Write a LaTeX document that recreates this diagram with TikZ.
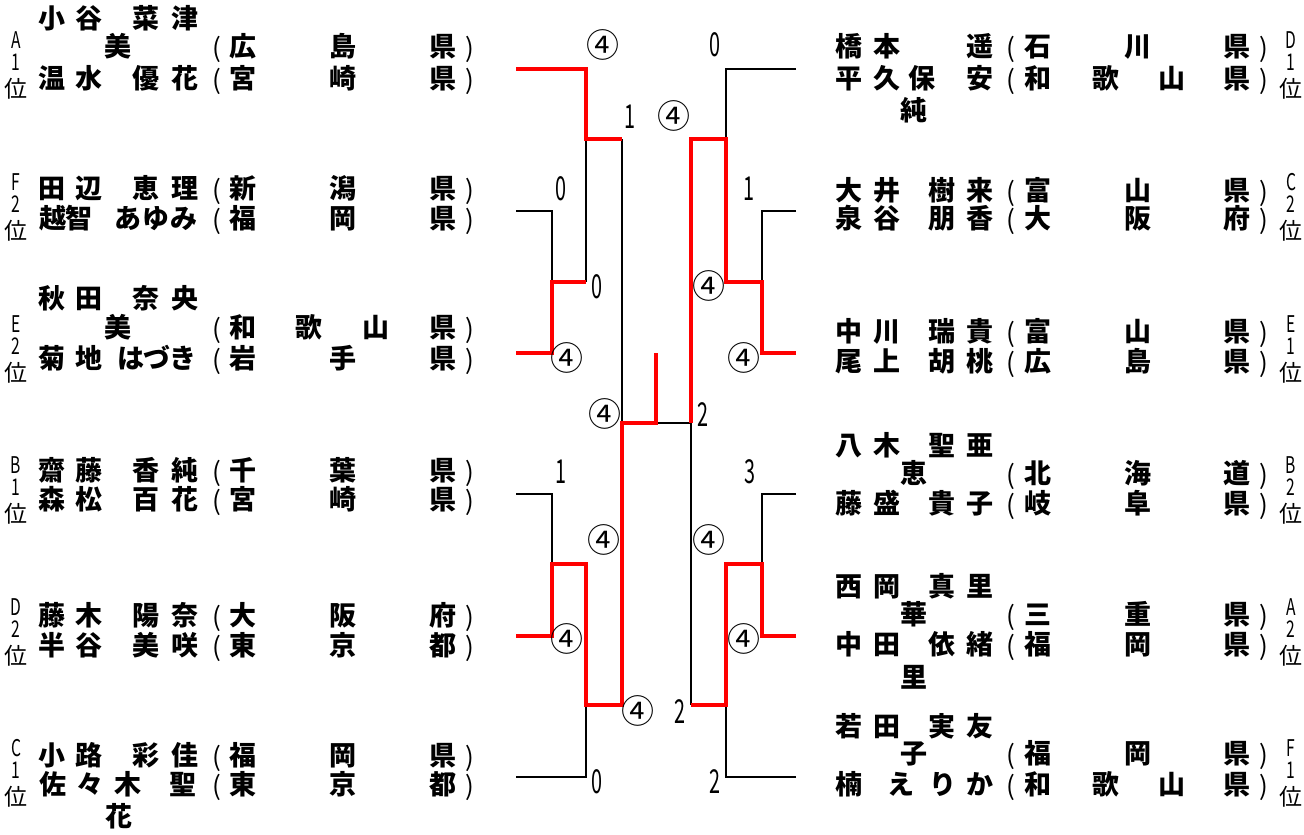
\documentclass[tikz,border=0pt]{standalone}
\usepackage{fontspec}
\usepackage{graphicx}
\newfontfamily\jp{Noto Sans CJK JP}

% one row of characters, each placed at its own x
\newcommand\putrow[3]{%
  \foreach \px/\zi [count=\k] in {#3} {\node[nm] (#1-\k) at (\px,#2) {\zi};}}
% prefecture between its parentheses
\newcommand\putpref[4]{%
  \node[par] (#1-o) at (#2,#3+1) {(};
  \node[par] (#1-c) at (#2+253,#3+1) {)};
  \putrow{#1}{#3}{#4}}
% pool and place, written downwards
\newcommand\putrank[5]{%
  \node[rank] (#1-a) at (#2,#3-24) {\scalebox{.68}[1]{#4}};
  \node[rank] (#1-b) at (#2,#3-2)  {\scalebox{.68}[1]{#5}};
  \node[rank, font = \jp\fontsize{23}{23}\selectfont] (#1-c) at (#2,#3+25) {位};}
\newcommand\nar[1]{\scalebox{.6}[1]{#1}}

\begin{document}
\begin{tikzpicture}[
    x = 1pt,
    y = -1pt,
    nm/.style = {inner sep = 0pt, text height = .88em, text depth = .12em,
                 font = \jp\bfseries\fontsize{27}{27}\selectfont},
    par/.style = {inner sep = 0pt, text height = .88em, text depth = .12em,
                  font = \jp\fontsize{26}{26}\selectfont},
    rank/.style = {inner sep = 0pt, text height = .8em, text depth = .1em,
                   font = \jp\fontsize{23}{23}\selectfont},
    score/.style = {inner sep = 0pt, text height = .88em, text depth = .12em,
                    font = \jp\fontsize{33}{33}\selectfont},
    circ/.style = {score, font = \jp\fontsize{33}{33}\selectfont},
    win/.style = {draw = red, line width = 4.5pt},
    lose/.style = {draw = black, line width = 1.2pt}
]
\useasboundingbox (0,0) rectangle (1304,835);

% Left players
\putrank{a1r}{16}{69}{A}{1}
\putrow{a1x}{25}{52/小,89/谷,146/菜,185/津}
\putrow{a1xx}{53}{118/美}
\putpref{a1xp}{217}{53}{243/広,343/島,443/県}
\putrow{a1y}{85}{52/温,89/水,146/優,185/花}
\putpref{a1yp}{217}{85}{243/宮,343/崎,443/県}

\putrank{f2r}{16}{211}{F}{2}
\putrow{f2x}{195}{52/田,89/辺,146/恵,185/理}
\putpref{f2xp}{217}{195}{243/新,343/潟,443/県}
\putrow{f2y}{225}{53/越,79/智,128/あ,156/ゆ,184/み}
\putpref{f2yp}{217}{225}{243/福,343/岡,443/県}

\putrank{e2r}{16}{353}{E}{2}
\putrow{e2x}{305}{52/秋,89/田,146/奈,185/央}
\putrow{e2xx}{334}{118/美}
\putpref{e2xp}{217}{334}{243/和,309/歌,376/山,443/県}
\putrow{e2y}{365}{52/菊,89/地,131/は,157/づ,183/き}
\putpref{e2yp}{217}{365}{243/岩,343/手,443/県}

\putrank{b1r}{16}{494}{B}{1}
\putrow{b1x}{477}{52/齋,89/藤,146/香,185/純}
\putpref{b1xp}{217}{477}{243/千,343/葉,443/県}
\putrow{b1y}{506}{52/森,89/松,146/百,185/花}
\putpref{b1yp}{217}{506}{243/宮,343/崎,443/県}

\putrank{d2r}{16}{636}{D}{2}
\putrow{d2x}{622}{52/藤,89/木,146/陽,185/奈}
\putpref{d2xp}{217}{622}{243/大,343/阪,443/府}
\putrow{d2y}{652}{52/半,89/谷,146/美,185/咲}
\putpref{d2yp}{217}{652}{243/東,343/京,443/都}

\putrank{c1r}{16}{777}{C}{1}
\putrow{c1x}{762}{52/小,89/路,146/彩,185/佳}
\putpref{c1xp}{217}{762}{243/福,343/岡,443/県}
\putrow{c1y}{791}{53/佐,90/々,128/木,183/聖}
\putpref{c1yp}{217}{791}{243/東,343/京,443/都}
\putrow{c1yy}{823}{119/花}

% Right players
\putrank{d1r}{1291}{69}{D}{1}
\putrow{d1x}{53}{849/橋,887/本,980/遥}
\putpref{d1xp}{1011}{53}{1038/石,1138/川,1237/県}
\putrow{d1y}{85}{849/平,887/久,922/保,980/安}
\putpref{d1yp}{1011}{85}{1038/和,1106/歌,1172/山,1237/県}
\putrow{d1yy}{117}{914/純}

\putrank{c2r}{1291}{211}{C}{2}
\putrow{c2x}{197}{849/大,887/井,942/樹,980/来}
\putpref{c2xp}{1011}{197}{1038/富,1138/山,1237/県}
\putrow{c2y}{225}{849/泉,887/谷,942/朋,980/香}
\putpref{c2yp}{1011}{225}{1038/大,1138/阪,1237/府}

\putrank{e1r}{1291}{353}{E}{1}
\putrow{e1x}{338}{849/中,887/川,942/瑞,980/貴}
\putpref{e1xp}{1011}{338}{1038/富,1138/山,1237/県}
\putrow{e1y}{368}{849/尾,887/上,942/胡,980/桃}
\putpref{e1yp}{1011}{368}{1038/広,1138/島,1237/県}

\putrank{b2r}{1291}{494}{B}{2}
\putrow{b2x}{452}{849/八,887/木,942/聖,980/亜}
\putrow{b2xx}{480}{914/恵}
\putpref{b2xp}{1011}{480}{1038/北,1138/海,1237/道}
\putrow{b2y}{510}{849/藤,887/盛,942/貴,980/子}
\putpref{b2yp}{1011}{510}{1038/岐,1138/阜,1237/県}

\putrank{a2r}{1291}{636}{A}{2}
\putrow{a2x}{593}{849/西,887/岡,942/真,980/里}
\putrow{a2xx}{621}{914/華}
\putpref{a2xp}{1011}{621}{1038/三,1138/重,1237/県}
\putrow{a2y}{651}{849/中,887/田,942/依,980/緒}
\putpref{a2yp}{1011}{651}{1038/福,1138/岡,1237/県}
\putrow{a2yy}{684}{914/里}

\putrank{f1r}{1291}{777}{F}{1}
\putrow{f1x}{733}{849/若,887/田,942/実,980/友}
\putrow{f1xx}{760}{914/子}
\putpref{f1xp}{1011}{760}{1038/福,1138/岡,1237/県}
\putrow{f1y}{791}{849/楠,901/え,943/り,980/か}
\putpref{f1yp}{1011}{791}{1038/和,1106/歌,1172/山,1237/県}

% Bracket points
\coordinate (a1) at (516,69);  \coordinate (d1) at (796,69);
\coordinate (f2) at (516,211); \coordinate (c2) at (796,211);
\coordinate (e2) at (516,353); \coordinate (e1) at (796,353);
\coordinate (b1) at (516,494); \coordinate (b2) at (796,494);
\coordinate (d2) at (516,636); \coordinate (a2) at (796,636);
\coordinate (c1) at (516,777); \coordinate (f1) at (796,777);
\coordinate (m1) at (552,282); \coordinate (n1) at (762,282);
\coordinate (m2) at (552,564); \coordinate (n2) at (762,564);
\coordinate (s1) at (586,139); \coordinate (r1) at (726,139);
\coordinate (s2) at (586,705); \coordinate (r2) at (726,705);
\coordinate (t1) at (622,423); \coordinate (u1) at (691,423);
\coordinate (fin) at (656,423); \coordinate (top) at (656,353);

% Lost matches
\draw[lose] (f2) -| (m1);
\draw[lose] (s1) -- (s1 |- m1);
\draw[lose] (t1 |- s1) -- (t1);
\draw[lose] (b1) -| (m2);
\draw[lose] (c1) -| (s2);
\draw[lose] (fin) -- (u1) -- (u1 |- r2);
\draw[lose] (d1) -| (r1);
\draw[lose] (c2) -| (n1);
\draw[lose] (b2) -| (n2);
\draw[lose] (f1) -| (r2);

% Won matches
\draw[win] (e2) -| (m1) -- (s1 |- m1);
\draw[win] (a1) -| (s1) -- (t1 |- s1);
\draw[win] (d2) -| (m2) -- (s2 |- m2) -- (s2) -- (t1 |- s2) -- (t1) -- (fin) -- (top);
\draw[win] (e1) -| (n1) -- (r1 |- n1) -- (r1) -- (u1 |- r1) -- (u1);
\draw[win] (a2) -| (n2) -- (r2 |- n2) -- (r2) -- (u1 |- r2);

% Scores, left
\node[circ]  (sa1)  at (603,54)  {④};
\node[score] (sa1b) at (630,125) {\nar{1}};
\node[score] (sf2)  at (561,197) {\nar{0}};
\node[score] (sm1)  at (597,295) {\nar{0}};
\node[circ]  (se2)  at (567,367) {④};
\node[circ]  (st1)  at (605,423) {④};
\node[score] (sb1)  at (561,480) {\nar{1}};
\node[circ]  (sm2)  at (604,549) {④};
\node[circ]  (sd2)  at (567,648) {④};
\node[circ]  (ss2)  at (638,720) {④};
\node[score] (sc1)  at (597,790) {\nar{0}};

% Scores, right
\node[score] (sd1) at (715,53)  {\nar{0}};
\node[circ]  (sr1) at (674,125) {④};
\node[score] (sc2) at (749,197) {\nar{1}};
\node[circ]  (sn1) at (709,295) {④};
\node[circ]  (se1) at (744,367) {④};
\node[score] (su1) at (703,423) {\nar{2}};
\node[score] (sb2) at (750,480) {\nar{3}};
\node[circ]  (sn2) at (709,549) {④};
\node[circ]  (sa2) at (744,648) {④};
\node[score] (sr2) at (680,720) {\nar{2}};
\node[score] (sf1) at (715,790) {\nar{2}};

\end{tikzpicture}
\end{document}
